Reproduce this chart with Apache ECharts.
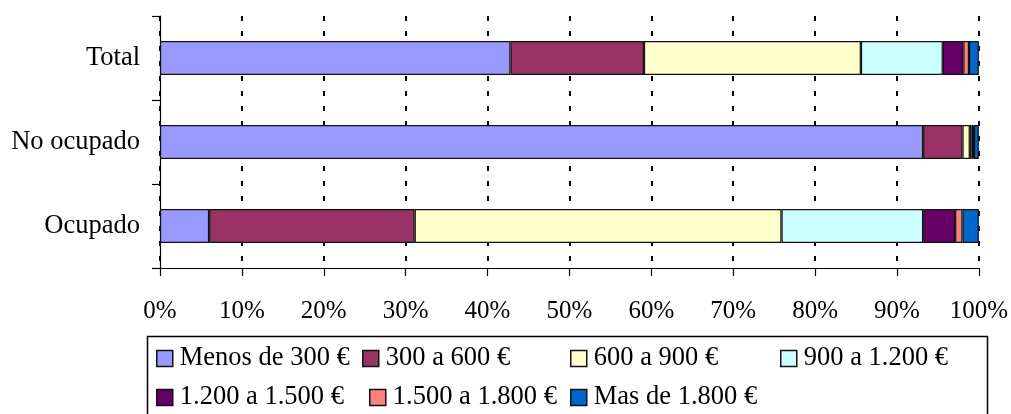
<!DOCTYPE html>
<html>
<head>
<meta charset="utf-8">
<script src="https://cdn.jsdelivr.net/npm/echarts@6/dist/echarts.min.js"></script>
<style>
html,body{margin:0;padding:0;background:#fff;}
#c{width:1011px;height:414px;}
</style>
</head>
<body>
<div id="c"></div>
<script>
var categories = ['Total', 'No ocupado', 'Ocupado'];
var seriesNames = ['Menos de 300 €', '300 a 600 €', '600 a 900 €', '900 a 1.200 €', '1.200 a 1.500 €', '1.500 a 1.800 €', 'Mas de 1.800 €'];
var menos300 = [42.8, 93.2, 6.0];
var de300a600 = [16.3, 4.8, 25.1];
var de600a900 = [26.5, 0.9, 44.8];
var de900a1200 = [10.0, 0.2, 17.3];
var de1200a1500 = [2.5, 0.2, 3.9];
var de1500a1800 = [0.7, 0.1, 0.9];
var mas1800 = [1.2, 0.6, 2.0];
var xTicks = [0, 10, 20, 30, 40, 50, 60, 70, 80, 90, 100];

var values = [menos300, de300a600, de600a900, de900a1200, de1200a1500, de1500a1800, mas1800];
var colors = ['#9999FF', '#993366', '#FFFFCC', '#CCFFFF', '#660066', '#FF8080', '#0066CC'];
var FONT = 'Liberation Serif';

var legendPos = [
  [156, 345], [362, 345], [570, 345], [780, 345],
  [156, 384], [369, 384], [570, 384]
];

var chart = echarts.init(document.getElementById('c'), null, {renderer: 'canvas'});
var option = {
  animation: false,
  backgroundColor: '#fff',
  grid: {left: 160, right: 29, top: 16, bottom: 146, containLabel: false},
  xAxis: {
    type: 'value', min: xTicks[0], max: xTicks[xTicks.length - 1], interval: 10,
    axisLine: {show: true, lineStyle: {color: '#000', width: 1.2}},
    axisTick: {show: true, length: 8, lineStyle: {color: '#000', width: 1.2}},
    axisLabel: {formatter: '{value}%', color: '#000', fontFamily: FONT, fontSize: 25, margin: 31},
    splitLine: {show: true, lineStyle: {color: '#000', width: 2, type: [5, 10]}}
  },
  yAxis: {
    type: 'category', data: categories, inverse: true,
    axisLine: {show: true, lineStyle: {color: '#000', width: 1.2}},
    axisTick: {show: true, length: 8, lineStyle: {color: '#000', width: 1.2}},
    axisLabel: {color: '#000', fontFamily: FONT, fontSize: 26.5, margin: 20},
    splitLine: {show: false}
  },
  legend: seriesNames.map(function (n, i) {
    return {
      data: [n], left: legendPos[i][0], top: legendPos[i][1], padding: 0,
      itemWidth: 16, itemHeight: 16, icon: 'rect',
      itemStyle: {borderColor: '#111', borderWidth: 1.5},
      textStyle: {fontFamily: FONT, fontSize: 26.5, color: '#000', padding: [0, 0, 0, 2]}
    };
  }),
  graphic: [{
    type: 'rect', left: 145, top: 334, z: 100,
    shape: {width: 840, height: 100},
    style: {fill: 'none', stroke: '#000', lineWidth: 1.5}
  }],
  series: seriesNames.map(function (n, i) {
    return {
      name: n, type: 'bar', stack: 'total', data: values[i], barWidth: 34,
      itemStyle: {color: colors[i], borderColor: '#111', borderWidth: 1.2},
      emphasis: {disabled: true}
    };
  })
};
chart.setOption(option);
</script>
</body>
</html>
